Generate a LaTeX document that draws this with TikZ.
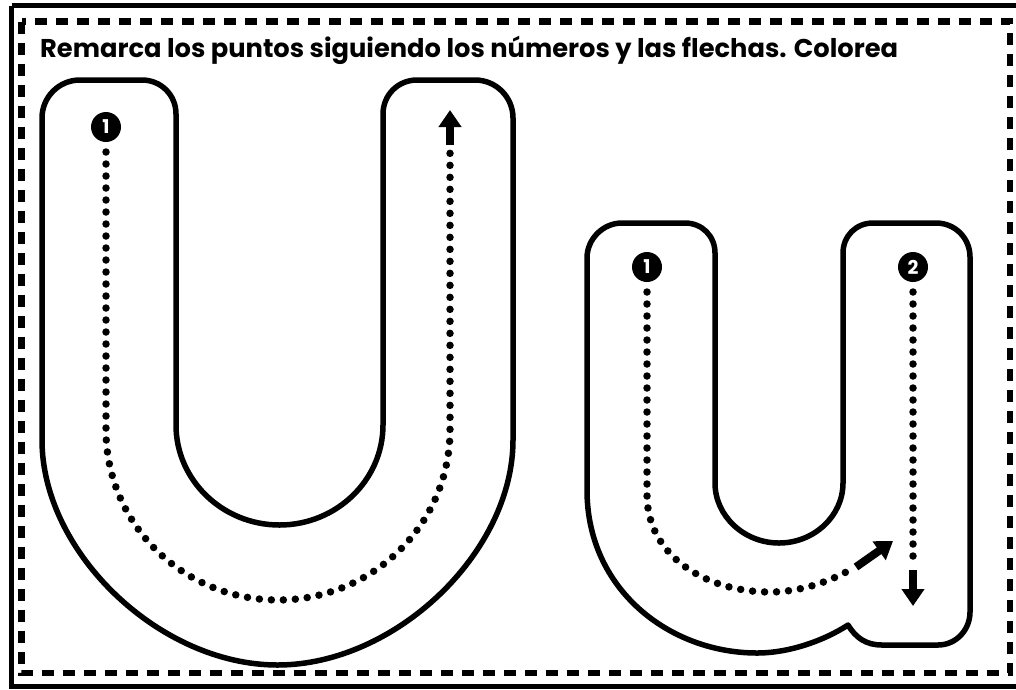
\documentclass[tikz,border=0pt]{standalone}
\usepackage{fontspec}
\usepackage{graphicx}
\setmainfont{Poppins}
\usetikzlibrary{arrows.meta}
\begin{document}
\begin{tikzpicture}[x=1pt,y=-1pt,
  outline/.style={line width=5.5pt, line join=round},
  dotline/.style={line width=7.5pt, line cap=round, dash pattern=on 0pt off 12pt},
  arrowline/.style={line width=8pt, -{Triangle[width=22pt,length=17pt]}},
  numcirc/.style={circle, fill=black, minimum size=30pt, inner sep=0pt, text=white, font=\fontsize{19}{19}\selectfont\bfseries},
  titletext/.style={anchor=base west, inner sep=0pt}
]
\useasboundingbox (0,0) rectangle (1016,689);
% frame
\draw[line width=5pt] (11.5,5.5) -- (1030,5.5) (11.5,5.5) -- (11.5,686) -- (1030,686);
\draw[line width=6.5pt, dash pattern=on 12pt off 9pt] (21.5,21.5) rectangle (1010,673);
% title
\node[titletext] (title) at (40,57) {\resizebox{858pt}{!}{\fontsize{24}{28}\selectfont\bfseries Remarca los puntos siguiendo los números y las flechas. Colorea}};
% big U outline
\draw[outline] (42,440) -- (42,118) .. controls (42,97) and (59,80) .. (80,80) -- (142,80)
  .. controls (161,80) and (176,95) .. (176,114) -- (176,425)
  .. controls (176,480) and (222.4,525) .. (279.5,525)
  .. controls (336.6,525) and (383,480) .. (383,425) -- (383,114)
  .. controls (383,95) and (398,80) .. (417,80) -- (475,80)
  .. controls (496,80) and (513,97) .. (513,118) -- (513,440)
  .. controls (513,552.5) and (395.25,665) .. (277.5,665)
  .. controls (159.75,665) and (42,552.5) .. (42,440) -- cycle;
% small u outline
\draw[outline] (587,490) -- (587,258) .. controls (587,239) and (603,223) .. (622,223) -- (685,223)
  .. controls (702,223) and (715,236) .. (715,253) -- (715,483)
  .. controls (715,516) and (744,543) .. (779,543)
  .. controls (814,543) and (843,516) .. (843,483) -- (843,253)
  .. controls (843,236) and (856,223) .. (873,223) -- (936,223)
  .. controls (955,223) and (970,238) .. (970,257) -- (970,612)
  .. controls (970,630) and (956,645) .. (938,645) -- (882,645)
  .. controls (866,645) and (856,638) .. (848,625)
  .. controls (825,640) and (790,653) .. (757,653)
  .. controls (670,653) and (587,590) .. (587,490) -- cycle;
% number circles
\node[numcirc] (b1) at (106,127) {1};
\node[numcirc] (s1) at (647,267) {1};
\node[numcirc] (s2) at (913,267) {2};
% end coordinates
\coordinate (bstart) at (106,152);
\coordinate (bend) at (450,150);
\coordinate (barrow0) at (450,145);
\coordinate (barrow1) at (450,110);
\coordinate (s1start) at (647,292);
\coordinate (s1end) at (855,567);
\coordinate (s1arrow0) at (856,567);
\coordinate (s1arrow1) at (893,541);
\coordinate (s2start) at (913,292);
\coordinate (s2end) at (913,566);
\coordinate (s2arrow0) at (913,570);
\coordinate (s2arrow1) at (913,606);
% dotted paths
\draw[dotline] (bstart) -- (106,430) .. controls (106,524) and (183,600) .. (278,600)
  .. controls (373,600) and (450,524) .. (450,430) -- (bend);
\draw[dotline] (s1start) -- (647,495) .. controls (647,555) and (705,592) .. (770,592)
  .. controls (800,592) and (830,582) .. (s1end);
\draw[dotline] (s2start) -- (s2end);
% arrows
\draw[arrowline] (barrow0) -- (barrow1);
\draw[arrowline] (s1arrow0) -- (s1arrow1);
\draw[arrowline] (s2arrow0) -- (s2arrow1);
\end{tikzpicture}
\end{document}
